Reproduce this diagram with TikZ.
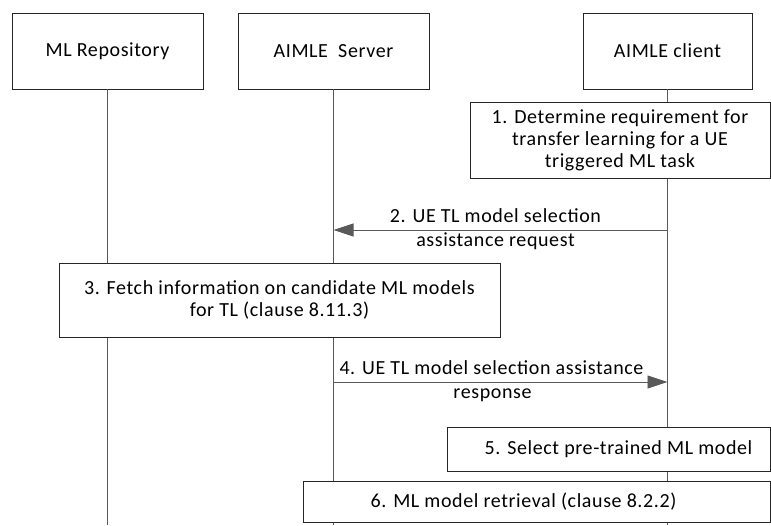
\documentclass[tikz,border=0pt]{standalone}
\usepackage{fontspec}
\setmainfont[LetterSpace=3]{Carlito}
\usepackage{xcolor}
\definecolor{Life}{HTML}{595959}
\definecolor{Edge}{HTML}{262626}
\usetikzlibrary{arrows.meta,positioning}
\tikzset{
  actor/.style={draw=Edge,fill=white,line width=0.8pt,minimum width=191pt,minimum height=76pt,
    inner sep=0pt,font=\fontsize{20}{22}\selectfont},
  stepbox/.style={draw=Edge,fill=white,line width=0.8pt,inner sep=0pt,align=center,
    font=\fontsize{20}{22}\selectfont},
  life/.style={draw=Life,line width=0.8pt},
  msg/.style={-{Triangle[length=20pt,width=13pt]},draw=Life,line width=0.8pt},
  lbl/.style={font=\fontsize{20}{22}\selectfont,align=center,text height=14pt,text depth=5pt,
    inner xsep=2pt,inner ysep=2pt}
}
\begin{document}
\begin{tikzpicture}[x=1pt,y=-1pt]
  \useasboundingbox (0,0) rectangle (771,525);
  % lifeline heads
  \node[actor] (repo) at (107.5,51) {ML Repository};
  \node[actor] (server) at (333.5,51) {AIMLE~ Server};
  \node[actor,minimum width=169pt] (client) at (667.5,51) {AIMLE client};
  \coordinate (repoEnd) at (repo.south |- 0,525);
  \coordinate (serverEnd) at (server.south |- 0,525);
  \coordinate (clientEnd) at (client.south |- 0,525);
  \draw[life] (repo) -- (repoEnd);
  \draw[life] (server) -- (serverEnd);
  \draw[life] (client) -- (clientEnd);
  % steps
  \node[stepbox,minimum width=300pt,minimum height=76pt] (det) at (620,140)
    {1. Determine requirement for\hspace{16pt}\\transfer learning for a UE\hspace{16pt}\\triggered ML task\hspace{16pt}};
  \coordinate (m2from) at (client.south |- 0,230);
  \coordinate (m2to) at (server.south |- 0,230);
  \draw[msg] (m2from) -- node[lbl,above,xshift=-5pt]{2. UE TL model selection}
    node[lbl,below,xshift=-5pt]{assistance request} (m2to);
  \node[stepbox,minimum width=441pt,minimum height=74pt] (fetch) at (279.5,300)
    {3. Fetch information on candidate ML models\\for TL (clause 8.11.3)};
  \coordinate (m4from) at (server.south |- 0,382);
  \coordinate (m4to) at (client.south |- 0,382);
  \draw[msg] (m4from) -- node[lbl,above,xshift=-9pt]{4. UE TL model selection assistance}
    node[lbl,below,xshift=-8pt]{response} (m4to);
  \node[stepbox,minimum width=323pt,minimum height=44pt] (select) at (608.5,449)
    {\hspace{20pt}5. Select pre-trained ML model};
  \node[stepbox,minimum width=467pt,minimum height=41pt] (retr) at (536.5,501.5)
    {6. ML model retrieval (clause 8.2.2)\hspace{26pt}};
\end{tikzpicture}
\end{document}
